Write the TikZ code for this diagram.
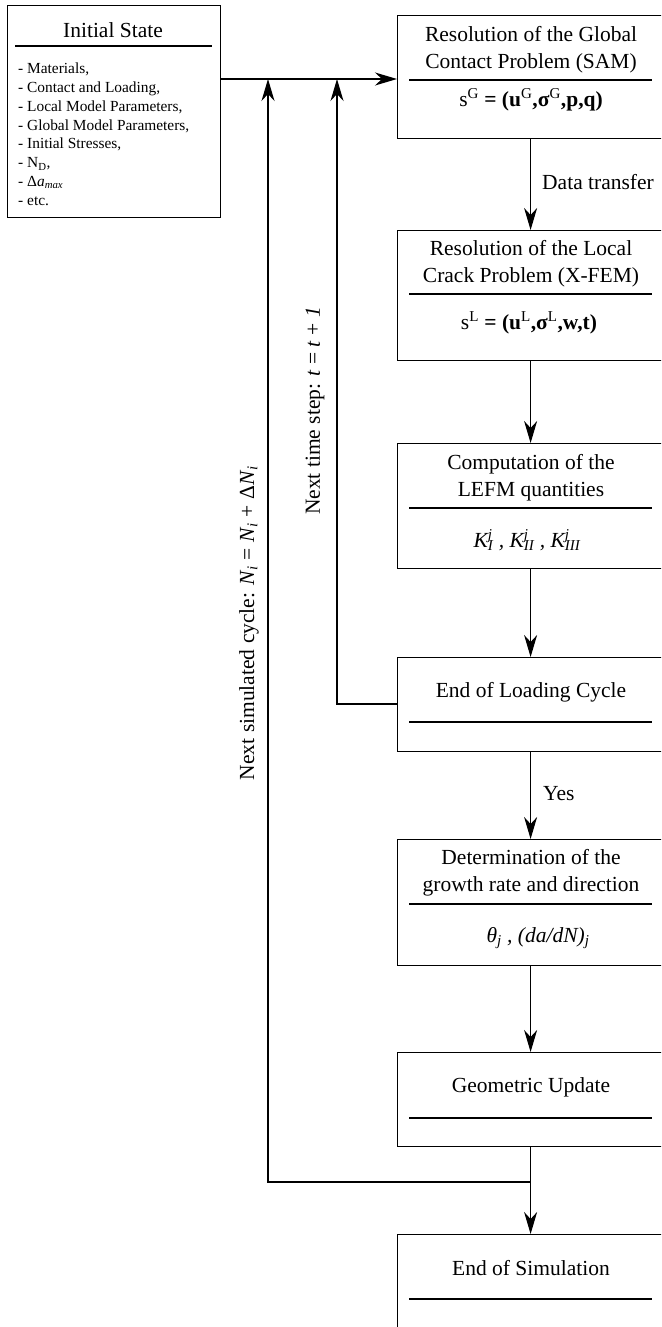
\documentclass[tikz,border=0pt]{standalone}
\usepackage{fontspec}
\setmainfont{Liberation Serif}
\usetikzlibrary{arrows.meta}
\newcommand{\fsz}{\fontsize{21.5}{27}\selectfont}
\newcommand{\fsm}{\fontsize{15.4}{18.9}\selectfont}
\newcommand{\supsub}[2]{\rlap{\textsuperscript{#1}}\textsubscript{#2}}
\begin{document}
\begin{tikzpicture}[x=1pt,y=-1pt,
  box/.style={draw, line width=1.2pt, anchor=north west, inner sep=0pt, minimum width=266pt},
  txt/.style={font=\fsz, align=center, inner sep=0pt},
  arr/.style={-{Stealth[length=22pt,width=13pt,inset=7pt]}, line width=1.2pt},
  ln/.style={line width=1.2pt},
  sepline/.style={line width=1.2pt}]
\useasboundingbox (0,0) rectangle (661,1327);
\clip (0,0) rectangle (661,1327);
% boxes
\node[box, minimum width=213pt, minimum height=212pt] (is) at (7,5) {};
\node[box, minimum height=123pt] (b1) at (397,15) {};
\node[box, minimum height=130pt] (b2) at (397,230) {};
\node[box, minimum height=125pt] (b3) at (397,443) {};
\node[box, minimum height=94pt] (b4) at (397,657) {};
\node[box, minimum height=126pt] (b5) at (397,839) {};
\node[box, minimum height=94pt] (b6) at (397,1052) {};
\node[box, minimum height=110pt] (b7) at (397,1234) {};
% initial state
\node[txt] (ist) at (113,30) {Initial State};
\draw[sepline] (15,46) -- (212,46);
\node[font=\fsm, align=left, anchor=north west, inner sep=0pt] (list) at (18,62.5)
 {- Materials,\\- Contact and Loading,\\- Local Model Parameters,\\- Global Model Parameters,\\- Initial Stresses,\\- N\textsubscript{D},\\- Δ\textit{a}\textsubscript{\textit{max}}\\- etc.};
% box 1
\node[txt] (t1) at (531,49.5) {Resolution of the Global\\Contact Problem (SAM)};
\draw[sepline] (409,80) -- (652,80);
\node[txt] (f1) at (531,100) {s\textsuperscript{G} \textbf{= (u}\textsuperscript{G}\textbf{,σ}\textsuperscript{G}\textbf{,p,q)}};
% box 2
\node[txt] (t2) at (531,263.5) {Resolution of the Local\\Crack Problem (X-FEM)};
\draw[sepline] (409,294) -- (652,294);
\node[txt] (f2) at (529,323) {s\textsuperscript{L} \textbf{= (u}\textsuperscript{L}\textbf{,σ}\textsuperscript{L}\textbf{,w,t)}};
% box 3
\node[txt] (t3) at (531,477.5) {Computation of the\\LEFM quantities};
\draw[sepline] (409,508) -- (652,508);
\node[txt] (f3) at (527,540) {\itshape K\supsub{j}{I} , K\supsub{j}{II} , K\supsub{j}{III}};
% box 4
\node[txt] (t4) at (531,692) {End of Loading Cycle};
\draw[sepline] (409,722) -- (652,722);
% box 5
\node[txt] (t5) at (531,873) {Determination of the\\growth rate and direction};
\draw[sepline] (409,904) -- (652,904);
\node[txt] (f5) at (538,938) {\itshape θ\textsubscript{j} , (da/dN)\textsubscript{j}};
% box 6
\node[txt] (t6) at (531,1087) {Geometric Update};
\draw[sepline] (409,1118) -- (652,1118);
% box 7
\node[txt] (t7) at (531,1268) {End of Simulation};
\draw[sepline] (409,1299) -- (652,1299);
% connectors
\coordinate (row) at (300,79);
\draw[arr] (is.east |- row) -- (b1.west |- row);
\draw[arr] (b1.south) -- node[txt, anchor=west, xshift=11pt, yshift=3pt] (dt) {Data transfer} (b2.north);
\draw[arr] (b2.south) -- (b3.north);
\draw[arr] (b3.south) -- (b4.north);
\draw[arr] (b4.south) -- node[txt, anchor=west, xshift=12pt, yshift=2pt] (yes) {Yes} (b5.north);
\draw[arr] (b5.south) -- (b6.north);
\coordinate (jy) at (0,1182);
\coordinate (jn) at (b6.south |- jy);
\coordinate (c6) at (268,1182);
\coordinate (c4) at (337,704);
\draw[ln] (b6.south) -- (jn);
\draw[arr] (jn) -- (b7.north);
\draw[arr] (jn) -- (c6) -- (c6 |- row);
\draw[arr] (b4.west |- c4) -- (c4) -- (c4 |- row);
% rotated labels
\node[txt, rotate=90] (lab1) at (249,623) {Next simulated cycle: \textit{N}\textsubscript{\textit{i}} = \textit{N}\textsubscript{\textit{i}} + Δ\textit{N}\textsubscript{\textit{i}}};
\node[txt, rotate=90] (lab2) at (315,411) {Next time step: \textit{t} = \textit{t} + \textit{1}};
\end{tikzpicture}
\end{document}
